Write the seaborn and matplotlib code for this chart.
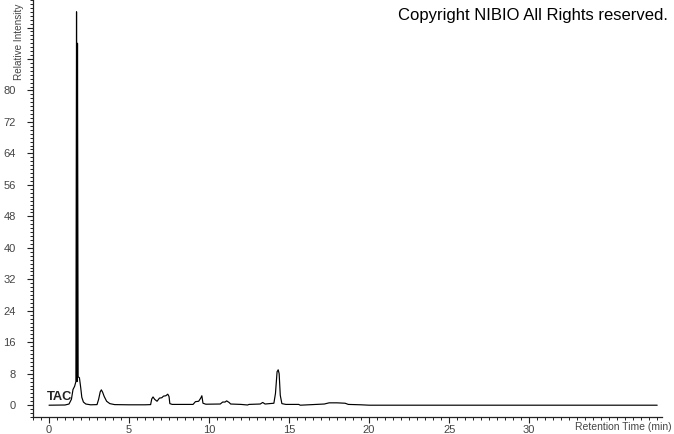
import matplotlib
matplotlib.use("Agg")
import matplotlib.pyplot as plt
import seaborn as sb
from matplotlib.ticker import MultipleLocator

# retention time (min) and relative intensity of the TAC trace
rt = [0.0, 1.0, 1.25, 1.4, 1.5, 1.6, 1.68, 1.72, 1.75, 1.78, 1.82, 1.9, 1.98,
      2.05, 2.15, 2.3, 2.6, 3.0, 3.1, 3.2, 3.27, 3.35, 3.45, 3.6, 3.8, 4.1,
      5.0, 6.0, 6.35, 6.42, 6.5, 6.6, 6.75, 6.9, 7.05, 7.15, 7.3, 7.42, 7.5,
      7.55, 7.7, 9.0, 9.15, 9.35, 9.48, 9.55, 9.62, 9.8, 10.7, 10.85, 11.0,
      11.1, 11.25, 11.35, 12.0, 12.4, 12.5, 13.2, 13.35, 13.5, 14.05, 14.15,
      14.25, 14.32, 14.38, 14.45, 14.55, 14.8, 15.6, 15.7, 17.2, 17.5, 18.0,
      18.5, 18.7, 19.5, 20.0, 38.0]
intensity = [0.0, 0.05, 0.3, 1.5, 4.0, 4.8, 6.0, 100.0, 6.0, 92.0, 7.2, 7.0,
             4.5, 2.0, 0.8, 0.3, 0.1, 0.15, 1.5, 3.4, 3.9, 3.3, 2.2, 1.0, 0.4,
             0.15, 0.1, 0.1, 0.15, 1.6, 2.1, 1.5, 1.0, 1.8, 1.9, 2.3, 2.4, 2.8,
             2.2, 0.4, 0.2, 0.2, 0.9, 1.0, 1.8, 2.4, 0.5, 0.25, 0.3, 0.8, 0.8,
             1.1, 0.7, 0.3, 0.2, 0.05, 0.2, 0.3, 0.7, 0.3, 0.5, 3.0, 8.5, 9.0,
             8.0, 2.5, 0.4, 0.2, 0.2, 0.0, 0.3, 0.6, 0.6, 0.5, 0.2, 0.1, 0.0, 0.0]

x_ticks = [0, 5, 10, 15, 20, 25, 30]
y_ticks = [0, 8, 16, 24, 32, 40, 48, 56, 64, 72, 80, 88, 96]
y_tick_labels = ["0", "8", "16", "24", "32", "40", "48", "56", "64", "72", "80", "", ""]

sb.set_style("white")
plt.rcParams["font.family"] = ["Liberation Sans", "DejaVu Sans"]

fig = plt.figure(figsize=(6.74, 4.34), dpi=100)
ax = fig.add_axes([33 / 674, 17 / 434, 629 / 674, 417 / 434])

sb.lineplot(x=rt, y=intensity, sort=False, estimator=None, color="black",
            linewidth=0.85, ax=ax)

ax.set_xlim(-1, 38.3)
ax.set_ylim(-3, 103)
ax.set_xticks(x_ticks)
ax.set_xticklabels([str(t) for t in x_ticks])
ax.set_yticks(y_ticks)
ax.set_yticklabels(y_tick_labels)
ax.xaxis.set_minor_locator(MultipleLocator(0.5))
ax.yaxis.set_minor_locator(MultipleLocator(1))

for side in ["top", "right"]:
    ax.spines[side].set_visible(False)
for side in ["left", "bottom"]:
    ax.spines[side].set_color("#222222")
    ax.spines[side].set_linewidth(0.9)

ax.tick_params(axis="both", which="major", direction="out", length=4,
               width=0.8, color="#222222", labelsize=8, labelcolor="#444444")
ax.tick_params(axis="both", which="minor", direction="out", length=2.2,
               width=0.7, color="#222222")
ax.tick_params(axis="y", which="major", pad=8.5, left=True)
ax.tick_params(axis="y", which="minor", left=True)
ax.tick_params(axis="x", which="major", pad=2, bottom=True)
ax.tick_params(axis="x", which="minor", bottom=True)
ax.set_xlabel("")
ax.set_ylabel("")

ax.text(-0.12, 1.4, "TAC", fontsize=9.3, fontweight="bold", color="#222222",
        ha="left", va="baseline")

fig.text(19 / 674, 1 - 80 / 434, "Relative Intensity", rotation=90,
         fontsize=7.2, color="#444444", ha="center", va="bottom")
fig.text(672 / 674, 7 / 434, "Retention Time (min)", fontsize=7.5,
         color="#444444", ha="right", va="center")
fig.text(668 / 674, 1 - 20 / 434, "Copyright NIBIO All Rights reserved.",
         fontsize=12, color="black", ha="right", va="baseline")

fig.savefig("out.png", dpi=100)
